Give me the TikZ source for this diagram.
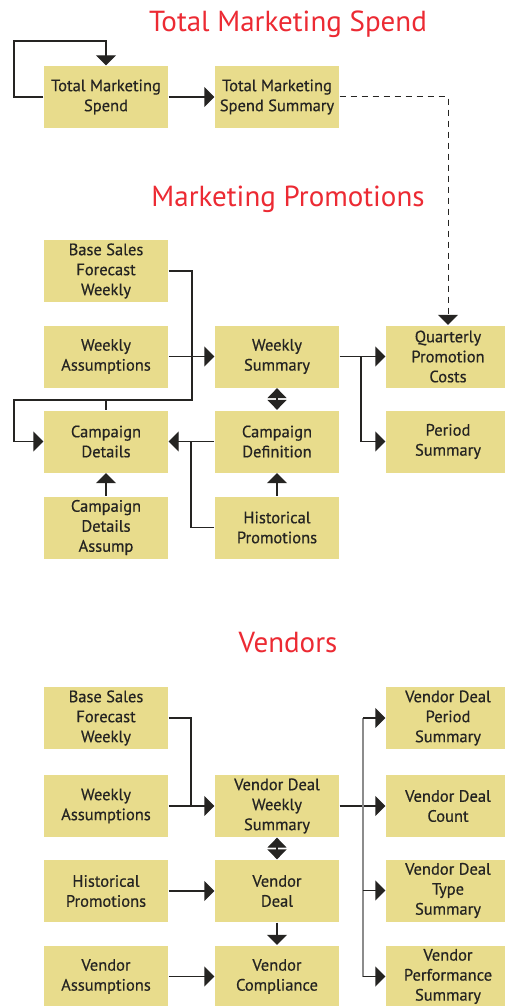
\documentclass[tikz,border=0pt]{standalone}
\usepackage{fontspec}
\setmainfont{PT Sans}
\newfontfamily\boxfont{PT Sans}[FakeBold=0.5]
\usetikzlibrary{arrows.meta}
\definecolor{boxfill}{HTML}{E8DC8C}
\definecolor{titlered}{HTML}{EC2A33}
\definecolor{ink}{HTML}{252422}

\tikzset{
	tbl/.style={fill=boxfill, minimum width=124pt, minimum height=62pt, inner sep=0pt, align=center, text=ink, font=\boxfont\fontsize{16.5}{20}\selectfont},
	heading/.style={anchor=base, text=titlered, font=\fontsize{29}{32}\selectfont},
	arr/.style={-{Triangle[length=10pt,width=20pt]}},
	dbl/.style={{Triangle[length=10pt,width=19pt]}-{Triangle[length=10pt,width=19pt]}},
}

\begin{document}
\begin{tikzpicture}[x=1pt, y=-1pt, line width=1.3pt, draw=ink]
		%%%%% START %%%%%
		\useasboundingbox (0, 0) rectangle (505, 1006);
		\clip (0, 0) rectangle (505, 1006);
		
		% total marketing spend
		\node[heading] (ttms) at (288, 32) {Total Marketing Spend};
		\node[tbl] (tms) at (106, 97) {Total Marketing\\Spend};
		\node[tbl] (tmss) at (277, 97) {Total Marketing\\Spend Summary};
		\coordinate (loop) at (14, 41);
		
		\draw[arr] (tms.west) -| (loop) -| (tms.north);
		\draw[arr] (tms) -- (tmss);
		
		% marketing promotions
		\node[heading] (tmp) at (288, 206) {Marketing Promotions};
		\node[tbl] (bsf) at (106, 271) {Base Sales\\Forecast\\Weekly};
		\node[tbl] (wass) at (106, 356.5) {Weekly\\Assumptions};
		\node[tbl] (wsum) at (277, 356.5) {Weekly\\Summary};
		\node[tbl] (qpc) at (448, 356.5) {Quarterly\\Promotion\\Costs};
		\node[tbl] (cdet) at (106, 441.5) {Campaign\\Details};
		\node[tbl] (cdef) at (277, 441.5) {Campaign\\Definition};
		\node[tbl] (psum) at (448, 441.5) {Period\\Summary};
		\node[tbl] (cda) at (106, 527.5) {Campaign\\Details\\Assump};
		\node[tbl] (hpro) at (277, 527.5) {Historical\\Promotions};
		\coordinate (bsj) at (192, 400);
		\coordinate (mpleft) at (14, 400);
		\coordinate (mpfork) at (361, 356.5);
		\coordinate (hpj) at (191, 441.5);
		
		\draw[arr, line width=1pt, dash pattern=on 6pt off 5pt] (tmss.east) -| (qpc.north);
		\draw[arr] (bsf.east) -| (bsj) -- (mpleft) |- (cdet.west);
		\draw (cdet.north) -- (cdet.north |- bsj);
		\draw[arr] (wass) -- (wsum);
		\draw[arr] (wsum) -- (qpc);
		\draw[arr] (mpfork) |- (psum.west);
		\draw[dbl] (wsum) -- (cdef);
		\draw[arr] (cdef) -- (cdet);
		\draw (hpro.west) -| (hpj);
		\draw[arr] (hpro) -- (cdef);
		\draw[arr] (cda) -- (cdet);
		
		% vendors
		\node[heading] (tven) at (288, 652) {Vendors};
		\node[tbl] (vbsf) at (106, 718) {Base Sales\\Forecast\\Weekly};
		\node[tbl] (vwass) at (106, 806) {Weekly\\Assumptions};
		\node[tbl] (vdws) at (277, 806) {Vendor Deal\\Weekly\\Summary};
		\node[tbl] (vhp) at (106, 891) {Historical\\Promotions};
		\node[tbl] (vdeal) at (277, 891) {Vendor\\Deal};
		\node[tbl] (vass) at (106, 976.5) {Vendor\\Assumptions};
		\node[tbl] (vcomp) at (277, 976.5) {Vendor\\Compliance};
		\node[tbl] (vdps) at (448, 718) {Vendor Deal\\Period\\Summary};
		\node[tbl] (vdcount) at (448, 806) {Vendor Deal\\Count};
		\node[tbl] (vdts) at (448, 890.5) {Vendor Deal\\Type\\Summary};
		\node[tbl] (vps) at (448, 976.5) {Vendor\\Performance\\Summary};
		\coordinate (vbsj) at (191, 806);
		\coordinate (vtop) at (363, 718);
		\coordinate (vbot) at (363, 976.5);
		
		\draw (vbsf.east) -| (vbsj);
		\draw[arr] (vwass) -- (vdws);
		\draw[arr] (vdws) -- (vdcount);
		\draw[black!45] (vtop) -- (vbot);
		\draw[arr] (vtop) -- (vdps.west);
		\draw[arr] (vtop |- vdts) -- (vdts.west);
		\draw[arr] (vbot) -- (vps.west);
		\draw[dbl] (vdws) -- (vdeal);
		\draw[arr] (vhp) -- (vdeal);
		\draw[arr] (vdeal) -- (vcomp);
		\draw[arr] (vass) -- (vcomp);
		
		%%%%% END %%%%%
	\end{tikzpicture}
\end{document}
